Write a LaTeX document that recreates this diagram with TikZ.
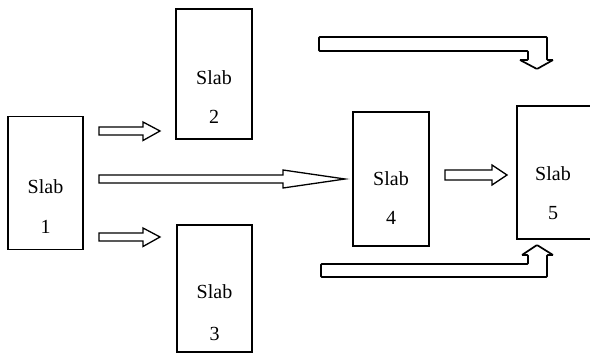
\documentclass[tikz,border=0pt]{standalone}
\usepackage{fontspec}
\setmainfont{Liberation Serif}
\begin{document}
\begin{tikzpicture}[x=1pt,y=-1pt,
  slabbox/.style={draw, line width=1.4pt, inner sep=0pt},
  slabtext/.style={font=\fontsize{20}{22}\selectfont, inner sep=0pt, anchor=base},
  blockarrow/.style={draw, line width=1.3pt, line join=miter, fill=white},
  bentarrow/.style={draw, line width=1.7pt, line join=miter, rounded corners=0.8pt, fill=white}]
\useasboundingbox (0,0) rectangle (590,355);

% slab boxes
\node[slabbox, minimum width=75pt, minimum height=133pt] (s1) at (45.5,183) {};
\node[slabbox, minimum width=76pt, minimum height=130pt] (s2) at (214,74) {};
\node[slabbox, minimum width=75pt, minimum height=127pt] (s3) at (214.5,288.5) {};
\node[slabbox, minimum width=76pt, minimum height=134pt] (s4) at (391,179) {};
\begin{scope}
  \clip (0,0) rectangle (590,355);
  \node[slabbox, minimum width=76pt, minimum height=133pt] (s5) at (555,172.5) {};
\end{scope}

% labels
\node[slabtext] (t1a) at (45.5,194) {Slab};
\node[slabtext] (t1b) at (45.5,234) {1};
\node[slabtext] (t2a) at (214,85) {Slab};
\node[slabtext] (t2b) at (214,124) {2};
\node[slabtext] (t3a) at (214.5,299) {Slab};
\node[slabtext] (t3b) at (214.5,341) {3};
\node[slabtext] (t4a) at (391,186) {Slab};
\node[slabtext] (t4b) at (391,225) {4};
\node[slabtext] (t5a) at (553,181) {Slab};
\node[slabtext] (t5b) at (553,220) {5};

% straight block arrows
\draw[blockarrow] (99,127) -- (143,127) -- (143,122) -- (160,131)
  -- (143,140.5) -- (143,135) -- (99,135) -- cycle;
\draw[blockarrow] (99,233) -- (143,233) -- (143,228) -- (160,237)
  -- (143,246.5) -- (143,241) -- (99,241) -- cycle;
\draw[blockarrow] (99,175) -- (283,175) -- (283,170) -- (345,179)
  -- (283,188) -- (283,183) -- (99,183) -- cycle;
\draw[blockarrow] (445,170) -- (492,170) -- (492,165) -- (507,175)
  -- (492,185) -- (492,180) -- (445,180) -- cycle;

% bent block arrows round slab 4
\draw[bentarrow] (319,37) -- (547,37) -- (547,60) -- (553,60) -- (537,69)
  -- (520,60) -- (528,60) -- (528,51) -- (319,51) -- cycle;
\draw[bentarrow] (321,264) -- (528,264) -- (528,255) -- (522,255) -- (537,245)
  -- (553,255) -- (547,255) -- (547,277) -- (321,277) -- cycle;
\end{tikzpicture}
\end{document}
